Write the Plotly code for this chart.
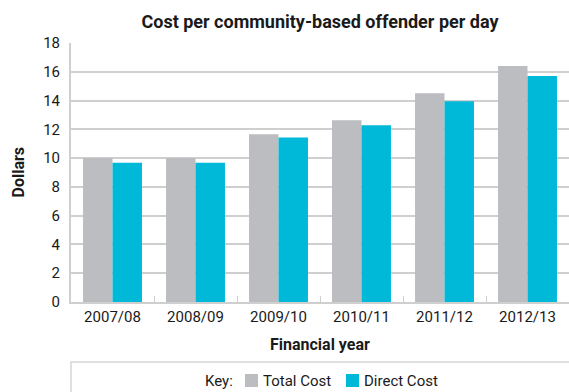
import plotly.graph_objects as go

# Cost per community-based offender per day, by financial year (dollars)
years = ["2007/08", "2008/09", "2009/10", "2010/11", "2011/12", "2012/13"]
total_cost = [10.0, 10.0, 11.65, 12.63, 14.51, 16.4]
direct_cost = [9.67, 9.67, 11.44, 12.28, 13.95, 15.7]
y_ticks = [0, 2, 4, 6, 8, 10, 12, 14, 16, 18]
series_names = ["Total Cost", "Direct Cost"]

GREY = "#bcbdc0"
CYAN = "#00b9d9"
GRID = "#cfcfcf"
TEXT = "#1a1a1a"
FONT = "Roboto"

W, H = 569, 392
L, R, T, B = 71, 0, 43, 90
PW, PH = W - L - R, H - T - B


def px_x(x):
    """Pixel column -> paper x."""
    return (x - L) / PW


def px_y(y):
    """Pixel row -> paper y."""
    return (H - B - y) / PH


fig = go.Figure()
fig.add_trace(go.Bar(name=series_names[0], x=years, y=total_cost, marker_color=GREY,
                     marker_line_width=0, showlegend=False))
fig.add_trace(go.Bar(name=series_names[1], x=years, y=direct_cost, marker_color=CYAN,
                     marker_line_width=0, showlegend=False))

fig.update_layout(
    width=W, height=H,
    margin=dict(l=L, r=R, t=T, b=B),
    paper_bgcolor="white", plot_bgcolor="white",
    font=dict(family=FONT, size=15, color=TEXT),
    barmode="group", bargap=0.29, bargroupgap=0,
    title=dict(text="<b>Cost per community-based offender per day</b>",
               x=0.5, xref="paper", xanchor="center",
               y=1 - 22 / H, yref="container", yanchor="middle",
               font=dict(family=FONT, size=18, color=TEXT)),
)

fig.update_xaxes(
    type="category", range=[-0.5, 5.5],
    showline=True, linecolor=GRID, linewidth=2,
    ticks="inside", tickson="boundaries", ticklen=6, tickcolor=GRID, tickwidth=1,
    showgrid=False, tickfont=dict(size=15, color=TEXT),
)
fig.update_yaxes(
    range=[0, 18], tickvals=y_ticks,
    showline=True, linecolor=GRID, linewidth=2,
    showgrid=True, gridcolor=GRID, gridwidth=2,
    zeroline=False, ticks="", ticklabelstandoff=6,
    tickfont=dict(size=15, color=TEXT),
)

# Axis titles
fig.add_annotation(text="<b>Dollars</b>", xref="paper", yref="paper",
                   x=px_x(18), y=0.5, textangle=-90, showarrow=False,
                   xanchor="center", yanchor="middle",
                   font=dict(family=FONT, size=16, color=TEXT))
fig.add_annotation(text="<b>Financial year</b>", xref="paper", yref="paper",
                   x=0.5, y=px_y(344), showarrow=False,
                   xanchor="center", yanchor="middle",
                   font=dict(family=FONT, size=16, color=TEXT))

# Key: frame, label, swatches and series names
fig.add_shape(type="rect", xref="paper", yref="paper",
              x0=0, x1=px_x(W + 10), y0=px_y(362), y1=px_y(H + 10),
              line=dict(color="#d6d6d6", width=1.5), fillcolor="rgba(0,0,0,0)",
              layer="below")
key_y = px_y(380.5)
fig.add_annotation(text="Key:", xref="paper", yref="paper", x=px_x(203), y=key_y,
                   showarrow=False, xanchor="left", yanchor="middle",
                   font=dict(family=FONT, size=15, color=TEXT))
for name, color, sx in [(series_names[0], GREY, 245), (series_names[1], CYAN, 346)]:
    fig.add_shape(type="rect", xref="paper", yref="paper",
                  x0=px_x(sx), x1=px_x(sx + 13), y0=px_y(374), y1=px_y(387),
                  line=dict(width=0), fillcolor=color)
    fig.add_annotation(text=name, xref="paper", yref="paper", x=px_x(sx + 16), y=key_y,
                       showarrow=False, xanchor="left", yanchor="middle",
                       font=dict(family=FONT, size=15, color=TEXT))

fig.write_html("out.html")
